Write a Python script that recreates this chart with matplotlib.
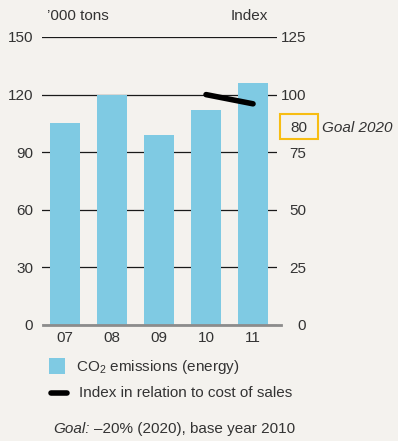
import matplotlib
matplotlib.use("Agg")
import matplotlib.pyplot as plt
from matplotlib.patches import Rectangle
from matplotlib.lines import Line2D

# CO2 emissions in '000 tons, plus cost-of-sales index (2010 = 100)
years = ["07", "08", "09", "10", "11"]
emissions = [105, 120, 99, 112, 126]
index_years = [3, 4]          # positions of 10 and 11
index_values = [100, 96]
left_ticks = [0, 30, 60, 90, 120, 150]
right_ticks = [0, 25, 50, 75, 100, 125]
goal_value = "80"

BG = "#f4f2ee"
BAR = "#7fcae3"
TXT = "#333333"
GOLD = "#f7bd12"
FS = 11

plt.rcParams["font.family"] = ["Liberation Sans", "DejaVu Sans"]
plt.rcParams["font.size"] = FS
plt.rcParams["mathtext.fontset"] = "custom"
plt.rcParams["mathtext.rm"] = "Liberation Sans"
plt.rcParams["mathtext.it"] = "Liberation Sans:italic"

W, H = 398, 441
fig = plt.figure(figsize=(W / 100, H / 100), dpi=100, facecolor=BG)
ax = fig.add_axes([42 / W, 1 - 325 / H, (277 - 42) / W, (325 - 37) / H])
ax.set_facecolor(BG)

x = range(len(years))
ax.bar(x, emissions, width=0.64, color=BAR, zorder=2)
ax.set_xlim(-0.49, 4.51)
ax.set_ylim(0, 150)
ax.set_yticks(left_ticks)
ax.set_xticks(list(x))
ax.set_xticklabels(years)
ax.tick_params(axis="y", length=0, pad=6.5, colors=TXT, labelsize=FS)
ax.tick_params(axis="x", length=0, pad=4, colors=TXT, labelsize=FS)
for s in ax.spines.values():
    s.set_visible(False)
ax.yaxis.grid(True, color="#1a1a1a", lw=0.9)
ax.set_axisbelow(True)
ax.axhline(0, xmin=0.003, xmax=1.017, color="#8c8c8c", lw=2, clip_on=False, zorder=3)

ax2 = ax.twinx()
ax2.set_ylim(0, 125)
ax2.set_yticks(right_ticks)
for s in ax2.spines.values():
    s.set_visible(False)
ax2.tick_params(axis="y", length=0, pad=20.9, colors=TXT, labelsize=FS)
for lbl in ax2.get_yticklabels():
    lbl.set_horizontalalignment("right")
ax2.plot(index_years, index_values, color="black", lw=4, solid_capstyle="round", zorder=4)

# goal marker next to the right axis
ax2.text(1.128, 85.5, goal_value, transform=ax2.get_yaxis_transform(), ha="right", va="center",
         color=TXT, fontsize=FS)
fig.patches.append(Rectangle((280 / W, 1 - 139 / H), 38 / W, 25 / H, transform=fig.transFigure,
                             fill=False, edgecolor=GOLD, lw=1.5))
fig.text(322 / W, 1 - 128 / H, "Goal 2020", style="italic", ha="left", va="center",
         color=TXT, fontsize=FS)

# axis headers
fig.text(47 / W, 1 - 16 / H, "\u2019000 tons", ha="left", va="center", color=TXT, fontsize=FS)
fig.text(268 / W, 1 - 16 / H, "Index", ha="right", va="center", color=TXT, fontsize=FS)

# legend
fig.patches.append(Rectangle((49 / W, 1 - 374 / H), 16 / W, 16 / H, transform=fig.transFigure,
                             facecolor=BAR, edgecolor="none"))
fig.text(76 / W, 1 - 367 / H, r"CO$_\mathrm{2}$ emissions (energy)", ha="left", va="center",
         color=TXT, fontsize=FS)
fig.lines.append(Line2D([51 / W, 67 / W], [1 - 393 / H, 1 - 393 / H], transform=fig.transFigure,
                        color="black", lw=4, solid_capstyle="round"))
fig.text(79 / W, 1 - 393 / H, "Index in relation to cost of sales", ha="left", va="center",
         color=TXT, fontsize=FS)

# footnote: italic lead word followed by plain text
goal = fig.text(53 / W, 1 - 429 / H, "Goal:", style="italic", ha="left", va="center",
                color=TXT, fontsize=FS)
renderer = fig.canvas.get_renderer()
end_x = goal.get_window_extent(renderer).x1
fig.text((end_x + 5) / W, 1 - 429 / H, "\u201320% (2020), base year 2010", ha="left",
         va="center", color=TXT, fontsize=FS)

fig.savefig("out.png", dpi=100, facecolor=BG)
